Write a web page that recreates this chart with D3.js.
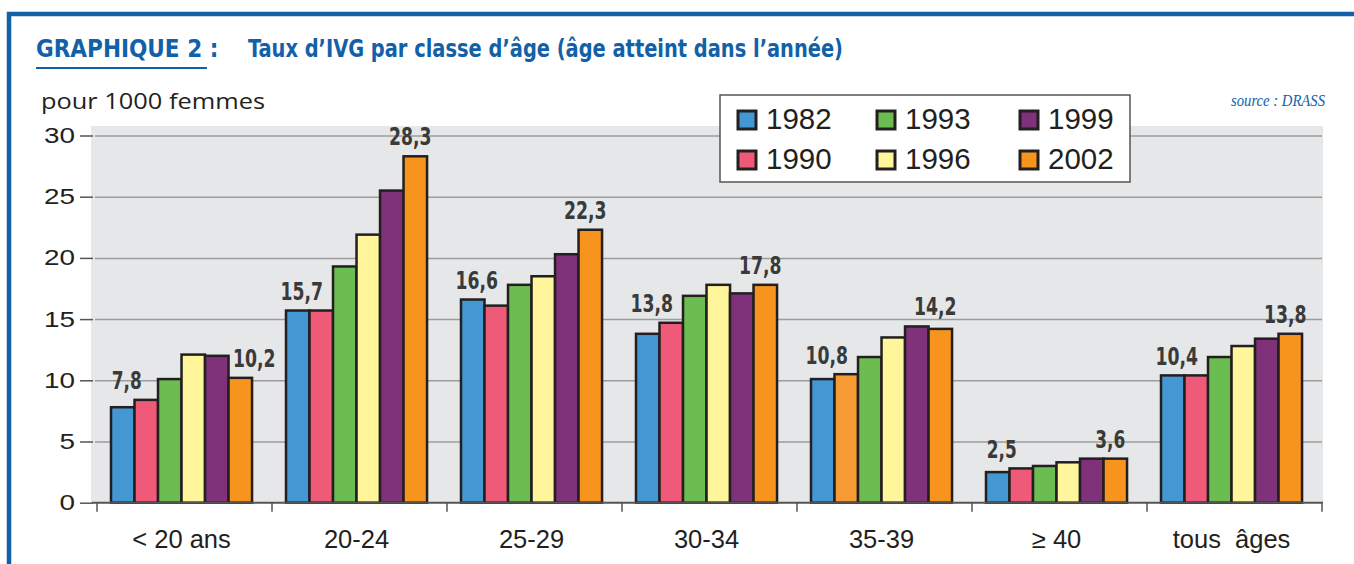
<!DOCTYPE html>
<html>
<head>
<meta charset="utf-8">
<script src="https://cdn.jsdelivr.net/npm/d3@7"></script>
<style>
  body { margin: 0; background: #fff; }
  svg { display: block; }
</style>
</head>
<body>
<div id="chart"></div>
<script>
// Data (taux pour 1000 femmes)
var categories = ['< 20 ans', '20-24', '25-29', '30-34', '35-39', '≥ 40', 'tous  âges']
var years = ['1982', '1990', '1993', '1996', '1999', '2002']

var v1982 = [7.8, 15.7, 16.6, 13.8, 10.1, 2.5, 10.4]
var v1990 = [8.4, 15.7, 16.1, 14.7, 10.5, 2.8, 10.4]
var v1993 = [10.1, 19.3, 17.8, 16.9, 11.9, 3.0, 11.9]
var v1996 = [12.1, 21.9, 18.5, 17.8, 13.5, 3.3, 12.8]
var v1999 = [12.0, 25.5, 20.3, 17.1, 14.4, 3.6, 13.4]
var v2002 = [10.2, 28.3, 22.3, 17.8, 14.2, 3.6, 13.8]

// value labels printed over first and last bar of each group
var firstLabels = [7.8, 15.7, 16.6, 13.8, 10.8, 2.5, 10.4]
var lastLabels = [10.2, 28.3, 22.3, 17.8, 14.2, 3.6, 13.8]

var yTicks = [0, 5, 10, 15, 20, 25, 30]

var series = [v1982, v1990, v1993, v1996, v1999, v2002]
var colors = ['#4397d3', '#ef5a78', '#6cbd51', '#fff59a', '#7f3179', '#f7941d']

var width = 1354
var height = 564
var blue = '#1261a8'
var ink = '#231f20'
var condFont = "'Liberation Sans Narrow', 'DejaVu Sans Condensed', sans-serif"
var sansFont = "'Liberation Sans', Arial, sans-serif"

var svg = d3
  .select('#chart')
  .append('svg')
  .attr('width', width)
  .attr('height', height)

// Scales
var xPositionScale = d3
  .scaleBand()
  .domain(categories)
  .range([97, 1322])

var bw = xPositionScale.bandwidth()
var xSubScale = d3
  .scaleBand()
  .domain(years)
  .range([bw * 0.08, bw * 0.886])

var yPositionScale = d3
  .scaleLinear()
  .domain([0, 30])
  .range([502.7, 135.5])

// Blue frame
svg
  .append('path')
  .attr('d', 'M9,' + height + ' V14 H' + width)
  .attr('fill', 'none')
  .attr('stroke', blue)
  .attr('stroke-width', 4.5)

// Title
svg
  .append('text')
  .text('GRAPHIQUE 2 :')
  .attr('x', 36)
  .attr('y', 57)
  .attr('font-family', condFont)
  .attr('font-weight', 'bold')
  .attr('font-size', 24)
  .attr('fill', blue)

svg
  .append('line')
  .attr('x1', 36)
  .attr('x2', 207)
  .attr('y1', 68)
  .attr('y2', 68)
  .attr('stroke', blue)
  .attr('stroke-width', 2)

svg
  .append('text')
  .text('Taux d’IVG par classe d’âge (âge atteint dans l’année)')
  .attr('x', 248)
  .attr('y', 57)
  .attr('textLength', 595)
  .attr('lengthAdjust', 'spacingAndGlyphs')
  .attr('font-family', condFont)
  .attr('font-weight', 'bold')
  .attr('font-size', 24)
  .attr('fill', blue)

// unit + source
svg
  .append('text')
  .text('pour 1000 femmes')
  .attr('x', 41)
  .attr('y', 109)
  .attr('textLength', 224)
  .attr('lengthAdjust', 'spacingAndGlyphs')
  .attr('font-family', "'Open Sans', sans-serif")
  .attr('font-size', 22)
  .attr('fill', ink)

svg
  .append('text')
  .text('source : DRASS')
  .attr('x', 1231)
  .attr('y', 106)
  .attr('textLength', 94)
  .attr('lengthAdjust', 'spacingAndGlyphs')
  .attr('font-family', "'Liberation Serif', serif")
  .attr('font-style', 'italic')
  .attr('font-size', 17)
  .attr('fill', blue)

// Plot background
svg
  .append('rect')
  .attr('x', 91)
  .attr('y', 126)
  .attr('width', 1323 - 91)
  .attr('height', 503 - 126)
  .attr('fill', '#e6e7e8')

// Gridlines + y axis
var yAxis = d3
  .axisLeft(yPositionScale)
  .tickValues(yTicks)
  .tickSize(0)
  .tickPadding(22)

var yAxisG = svg
  .append('g')
  .attr('class', 'axis y-axis')
  .attr('transform', 'translate(97,0)')
  .call(yAxis)

yAxisG.select('.domain').remove()
yAxisG
  .selectAll('.tick text')
  .attr('font-family', sansFont)
  .attr('font-size', 22)
  .attr('textLength', d => String(d).length * 15.5)
  .attr('lengthAdjust', 'spacingAndGlyphs')
  .attr('fill', ink)

yAxisG
  .selectAll('.tick')
  .append('line')
  .attr('x1', -17)
  .attr('x2', -4)
  .attr('stroke', '#555')
  .attr('stroke-width', 1.5)

yAxisG
  .selectAll('.tick')
  .filter(d => d > 0)
  .append('line')
  .attr('x1', -2)
  .attr('x2', 1322 - 97)
  .attr('stroke', '#9c9c9c')
  .attr('stroke-width', 1.5)

// Bars
var groups = svg
  .selectAll('.group')
  .data(categories)
  .enter()
  .append('g')
  .attr('class', 'group')
  .attr('transform', d => 'translate(' + xPositionScale(d) + ',0)')

var fmt = d => d.toFixed(1).replace('.', ',')
// condensed look: digits ~12.5px wide, comma ~5px
var labelLength = d => (fmt(d).length - 1) * 12.5 + 5

groups.each(function(cat, ci) {
  var g = d3.select(this)
  years.forEach(function(year, si) {
    var v = series[si][ci]
    // the 1990 bar of 35-39 is printed orange in the original
    var fill = cat === '35-39' && year === '1990' ? '#f79c34' : colors[si]
    g.append('rect')
      .attr('x', xSubScale(year))
      .attr('y', yPositionScale(v))
      .attr('width', xSubScale.bandwidth())
      .attr('height', yPositionScale(0) - yPositionScale(v))
      .attr('fill', fill)
      .attr('stroke', ink)
      .attr('stroke-width', 2.5)
  })

  // value labels, kept clear of the neighbouring bar
  var first = years[0]
  var last = years[years.length - 1]
  var fx = xSubScale(first) + xSubScale.bandwidth() / 2 + 4
  var lx = xSubScale(last) + xSubScale.bandwidth() / 2 + (ci === 0 ? 14 : -5)
  var fTop = Math.max(series[0][ci], series[1][ci])
  var lTop = ci === 0 ? series[5][ci] : Math.max(series[4][ci], series[5][ci])

  g.append('text')
    .text(fmt(firstLabels[ci]))
    .attr('x', fx - labelLength(firstLabels[ci]) / 2)
    .attr('y', yPositionScale(fTop) - 10.5)
    .attr('textLength', labelLength(firstLabels[ci]))
    .attr('lengthAdjust', 'spacingAndGlyphs')
    .attr('font-family', condFont)
    .attr('font-weight', 'bold')
    .attr('font-size', 24)
    .attr('fill', '#3a3a3a')

  g.append('text')
    .text(fmt(lastLabels[ci]))
    .attr('x', lx - labelLength(lastLabels[ci]) / 2)
    .attr('y', yPositionScale(lTop) - 11)
    .attr('textLength', labelLength(lastLabels[ci]))
    .attr('lengthAdjust', 'spacingAndGlyphs')
    .attr('font-family', condFont)
    .attr('font-weight', 'bold')
    .attr('font-size', 24)
    .attr('fill', '#3a3a3a')
})

// Baseline + x axis ticks at category boundaries
svg
  .append('line')
  .attr('x1', 92)
  .attr('x2', 1323)
  .attr('y1', yPositionScale(0))
  .attr('y2', yPositionScale(0))
  .attr('stroke', '#555')
  .attr('stroke-width', 2)

var bounds = categories.map(d => xPositionScale(d)).concat([xPositionScale.range()[1]])
svg
  .selectAll('.x-tick')
  .data(bounds)
  .enter()
  .append('line')
  .attr('class', 'x-tick')
  .attr('x1', d => d)
  .attr('x2', d => d)
  .attr('y1', yPositionScale(0))
  .attr('y2', yPositionScale(0) + 9)
  .attr('stroke', '#555')
  .attr('stroke-width', 1.5)

svg
  .selectAll('.x-label')
  .data(categories)
  .enter()
  .append('text')
  .attr('class', 'x-label')
  .text(d => d)
  .attr('x', d => xPositionScale(d) + (xSubScale.range()[0] + xSubScale.range()[1]) / 2)
  .attr('y', 548)
  .attr('text-anchor', 'middle')
  .attr('font-family', sansFont)
  .attr('font-size', 25.5)
  .attr('fill', ink)
  .style('white-space', 'pre')

// Legend
var legend = svg.append('g').attr('class', 'legend')
legend
  .append('rect')
  .attr('x', 720)
  .attr('y', 95)
  .attr('width', 410)
  .attr('height', 87)
  .attr('fill', '#fff')
  .attr('stroke', '#555')
  .attr('stroke-width', 1.5)

var legendCols = [738, 877, 1020]
var legendRows = [111, 151]
years.forEach(function(year, i) {
  var lx = legendCols[Math.floor(i / 2)]
  var ly = legendRows[i % 2]
  legend
    .append('rect')
    .attr('x', lx)
    .attr('y', ly)
    .attr('width', 18)
    .attr('height', 18)
    .attr('fill', colors[i])
    .attr('stroke', ink)
    .attr('stroke-width', 3)
  legend
    .append('text')
    .text(year)
    .attr('x', lx + 28)
    .attr('y', ly + 18)
    .attr('font-family', sansFont)
    .attr('font-size', 29.5)
    .attr('fill', ink)
})
</script>
</body>
</html>
